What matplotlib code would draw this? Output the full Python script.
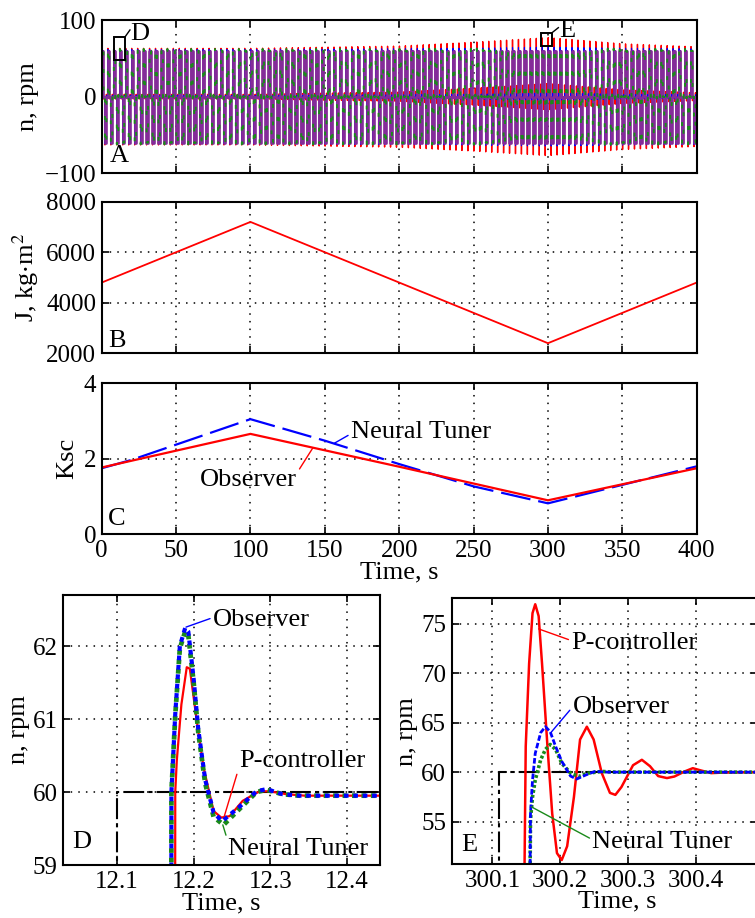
import numpy as np
import matplotlib
matplotlib.use('Agg')
import matplotlib.pyplot as plt
from matplotlib.patches import Rectangle

plt.rcParams['font.family'] = ['Liberation Serif', 'DejaVu Serif']
plt.rcParams['mathtext.fontset'] = 'stix'

# ---- panel A: speed for the whole run (steps every second, levels repeat)
ref_levels = [60, 0, -60, 0]
first_step = 0.1
step_dt = 1.0
t_end = 400
# overshoot of each controller
env_t = [0, 100, 200, 250, 300, 350, 400]
pc_over = [3, 3, 6, 11, 17, 9, 5]
obs_over = [1.5, 1.5, 2.5, 3.2, 4.5, 3.2, 2.4]
nt_over = [2.2, 2.2, 2.3, 2.5, 2.8, 2.5, 2.2]

# ---- panel B: moment of inertia
j_t = [0, 100, 300, 400]
j_val = [4800, 7200, 2400, 4800]

# ---- panel C: speed controller gain
kobs_t = [0, 100, 200, 300, 400]
kobs = [1.77, 2.66, 1.79, 0.90, 1.75]
knt_t = [0, 20, 100, 150, 200, 250, 300, 350, 400]
knt = [1.75, 1.97, 3.05, 2.48, 1.86, 1.27, 0.82, 1.31, 1.80]

# ---- panel D: zoom at t = 12.1 s
refd_t = [12.1, 12.1, 12.45]
refd_n = [0, 60, 60]
pcd_t = [12.1, 12.171, 12.176, 12.178, 12.184, 12.191, 12.195, 12.204, 12.213,
         12.226, 12.236, 12.247, 12.264, 12.286, 12.299, 12.321, 12.345, 12.45]
pcd_n = [0, 0, 60, 60.43, 61.2, 61.71, 61.69, 60.98, 60.33,
         59.74, 59.65, 59.67, 59.88, 60.01, 60.01, 59.97, 59.95, 59.95]
obsd_t = [12.1, 12.166, 12.171, 12.176, 12.182, 12.189, 12.193, 12.2, 12.206,
          12.215, 12.226, 12.237, 12.26, 12.282, 12.295, 12.316, 12.338, 12.45]
obsd_n = [0, 0, 60, 61.07, 62.0, 62.25, 62.2, 61.55, 60.86,
          60.17, 59.72, 59.6, 59.8, 60.01, 60.04, 59.97, 59.95, 59.95]
ntd_t = [12.1, 12.166, 12.171, 12.176, 12.182, 12.189, 12.193, 12.2, 12.206,
         12.215, 12.226, 12.239, 12.26, 12.282, 12.295, 12.316, 12.338, 12.45]
ntd_n = [0, 0, 60, 61.05, 61.97, 62.2, 62.15, 61.5, 60.82,
         60.12, 59.66, 59.55, 59.77, 60.0, 60.03, 59.97, 59.95, 59.95]

# ---- panel E: zoom at t = 300.1 s
refe_t = [300.11, 300.11, 300.5]
refe_n = [0, 60, 60]
pce_t = [300.1, 300.14, 300.149, 300.154, 300.159, 300.163, 300.168, 300.173,
         300.181, 300.188, 300.195, 300.202, 300.21, 300.22, 300.229, 300.239,
         300.249, 300.261, 300.273, 300.281, 300.29, 300.307, 300.32, 300.332,
         300.344, 300.357, 300.368, 300.383, 300.395, 300.407, 300.422, 300.437,
         300.5]
pce_n = [0, 0, 62.6, 71.0, 76.1, 77.0, 75.8, 71.0,
         62.6, 55.8, 51.8, 51.1, 52.5, 57.5, 63.3, 64.6,
         63.3, 59.9, 57.9, 57.7, 58.5, 60.7, 61.25, 60.6,
         59.6, 59.4, 59.56, 60.07, 60.4, 60.17, 59.9, 59.95,
         60.0]
obse_t = [300.1, 300.15, 300.156, 300.159, 300.163, 300.171, 300.178, 300.185,
          300.193, 300.202, 300.215, 300.224, 300.237, 300.251, 300.27, 300.5]
obse_n = [0, 0, 55.8, 59.2, 61.9, 64.0, 64.6, 64.1,
          62.6, 61.1, 59.6, 59.3, 59.7, 60.07, 60.0, 60.0]
nte_t = [300.1, 300.15, 300.156, 300.159, 300.163, 300.171, 300.178, 300.185,
         300.193, 300.202, 300.215, 300.227, 300.241, 300.261, 300.28, 300.5]
nte_n = [0, 0, 55.2, 57.5, 59.2, 61.25, 62.3, 62.8,
         62.3, 60.9, 59.9, 59.56, 59.9, 60.07, 60.0, 60.0]


def step_train(levels, t0, dt, t_stop, delay=0.0, over_t=None, over_v=None):
    ts, vs = [0.0], [0.0]
    prev = 0.0
    t = t0
    i = 0
    while t < t_stop:
        b = levels[i % len(levels)]
        s = np.sign(b - prev)
        if over_v is None:
            ts += [t, t]
            vs += [prev, b]
        else:
            os_ = np.interp(t, over_t, over_v)
            ts += [t + delay, t + delay + 0.03, t + delay + 0.08, t + delay + 0.2]
            vs += [prev, b + s * os_, b - s * os_ * 0.25, b]
        prev = b
        t += dt
        i += 1
    ts.append(t_stop)
    vs.append(prev)
    return np.array(ts), np.array(vs)


grid_kw = dict(color='k', linestyle=(0, (1, 4)), linewidth=1.1)
tick_kw = dict(direction='in', length=5, width=1.2, top=True, right=True,
               labelsize=18, pad=4)

fig = plt.figure(figsize=(7.55, 9.18), dpi=100)

W = 755.0
H = 918.0


def add_ax(l, t, r, b):
    return fig.add_axes([l / W, 1 - b / H, (r - l) / W, (b - t) / H])


axA = add_ax(101.7, 20, 696.7, 173.3)
axB = add_ax(101.7, 201.7, 696.7, 353.3)
axC = add_ax(101.7, 383.3, 696.7, 534.3)
axD = add_ax(63.3, 595, 380, 865)
axE = add_ax(451.7, 598.3, 758, 864)

# ---------------- A
t_pc, n_pc = step_train(ref_levels, first_step, step_dt, t_end, 0.04, env_t, pc_over)
t_ob, n_ob = step_train(ref_levels, first_step, step_dt, t_end, 0.05, env_t, obs_over)
t_nt, n_nt = step_train(ref_levels, first_step, step_dt, t_end, 0.05, env_t, nt_over)
t_rf, n_rf = step_train(ref_levels, first_step, step_dt, t_end)
axA.plot(t_pc, n_pc, color='#ff0000', lw=1.0)
axA.plot(t_ob, n_ob, color='#0000ff', lw=0.8)
axA.plot(t_rf, n_rf, color='#842c99', lw=1.9)
axA.plot(t_nt, n_nt, color='#1a8a1a', lw=1.4, linestyle=(0, (2, 7)))
axA.set_xlim(0, 400)
axA.set_ylim(-100, 100)
axA.set_yticks([-100, 0, 100])
axA.set_ylabel('n, rpm', fontsize=19)
axA.add_patch(Rectangle((8.5, 48), 7.2, 30, fill=False, ec='k', lw=1.4, zorder=5))
axA.plot([15.7, 19], [78, 87], color='k', lw=1.0, zorder=5)
axA.text(19.5, 82, 'D', fontsize=19, ha='left', va='center', zorder=6)
axA.add_patch(Rectangle((295, 65.5), 7.8, 18, fill=False, ec='k', lw=1.4, zorder=5))
axA.plot([302.8, 307], [83.5, 90], color='k', lw=1.0, zorder=5)
axA.text(307.5, 85, 'E', fontsize=19, ha='left', va='center', zorder=6)
axA.text(5.5, -78, 'A', fontsize=19, ha='left', va='center')

# ---------------- B
axB.plot(j_t, j_val, color='#ff0000', lw=1.3)
axB.set_xlim(0, 400)
axB.set_ylim(2000, 8000)
axB.set_yticks([2000, 4000, 6000, 8000])
axB.set_ylabel('J, kg$\\cdot$m$^2$', fontsize=19)
axB.text(4.2, 2500, 'B', fontsize=19, ha='left', va='center')

# ---------------- C
axC.plot(knt_t, knt, color='#0000ff', lw=1.6, linestyle=(0, (13.5, 3.6)))
axC.plot(kobs_t, kobs, color='#ff0000', lw=1.6)
axC.set_xlim(0, 400)
axC.set_ylim(0, 4)
axC.set_yticks([0, 2, 4])
axC.set_ylabel('Ksc', fontsize=19)
axC.set_xlabel('Time, s', fontsize=19, labelpad=0)
axC.annotate('Neural Tuner', xy=(156.3, 2.41), xytext=(167.5, 2.72), fontsize=19,
             ha='left', va='center',
             arrowprops=dict(arrowstyle='-', color='#0000ff', lw=1.0, relpos=(0, 0.4),
                             shrinkA=0, shrinkB=0))
axC.annotate('Observer', xy=(141.8, 2.28), xytext=(65.9, 1.44), fontsize=19,
             ha='left', va='center',
             arrowprops=dict(arrowstyle='-', color='#ff0000', lw=1.0, relpos=(1, 0.8),
                             shrinkA=0, shrinkB=0))
axC.text(4.2, 0.4, 'C', fontsize=19, ha='left', va='center')

for ax in (axA, axB, axC):
    ax.set_xticks(np.arange(0, 401, 50))
for ax in (axA, axB):
    ax.tick_params(labelbottom=False)

# ---------------- D
axD.plot(refd_t, refd_n, color='k', lw=1.5, linestyle=(0, (10, 2, 2, 2)))
axD.plot(pcd_t, pcd_n, color='#ff0000', lw=1.6)
axD.plot(ntd_t, ntd_n, color='#1a8a1a', lw=3.4, linestyle=(0, (1, 1)))
axD.plot(obsd_t, obsd_n, color='#0000ff', lw=3.0, linestyle=(1.13, (1.13, 1.13)))
axD.set_xlim(12.03, 12.443)
axD.set_ylim(59, 62.7)
axD.set_xticks([12.1, 12.2, 12.3, 12.4])
axD.set_yticks([59, 60, 61, 62])
axD.set_ylabel('n, rpm', fontsize=19, labelpad=2)
axD.set_xlabel('Time, s', fontsize=19, labelpad=0)
axD.annotate('Observer', xy=(12.19, 62.26), xytext=(12.225, 62.36), fontsize=19,
             ha='left', va='center',
             arrowprops=dict(arrowstyle='-', color='#0000ff', lw=1.0, relpos=(0, 0.6),
                             shrinkA=0, shrinkB=0))
axD.annotate('P-controller', xy=(12.24, 59.67), xytext=(12.26, 60.43), fontsize=19,
             ha='left', va='center',
             arrowprops=dict(arrowstyle='-', color='#ff0000', lw=1.0, relpos=(0, 0.3),
                             shrinkA=0, shrinkB=0))
axD.annotate('Neural Tuner', xy=(12.238, 59.55), xytext=(12.245, 59.22), fontsize=19,
             ha='left', va='center',
             arrowprops=dict(arrowstyle='-', color='#1a8a1a', lw=1.0, relpos=(0, 0.8),
                             shrinkA=0, shrinkB=0))
axD.text(12.042, 59.31, 'D', fontsize=19, ha='left', va='center')

# ---------------- E
axE.plot(refe_t, refe_n, color='k', lw=1.5, linestyle=(0, (10, 2, 2, 2)))
axE.plot(pce_t, pce_n, color='#ff0000', lw=1.8)
axE.plot(nte_t, nte_n, color='#1a8a1a', lw=2.6, linestyle=(0, (0.8, 0.6)))
axE.plot(obse_t, obse_n, color='#0000ff', lw=2.0, linestyle=(0, (2.0, 0.8)))
axE.set_xlim(300.04, 300.491)
axE.set_ylim(50.7, 77.6)
axE.set_xticks([300.1, 300.2, 300.3, 300.4])
axE.set_yticks([55, 60, 65, 70, 75])
axE.set_ylabel('n, rpm', fontsize=19, labelpad=2)
axE.set_xlabel('Time, s', fontsize=19, labelpad=0)
axE.xaxis.set_label_coords(0.54, -0.1)
axE.annotate('P-controller', xy=(300.168, 74.5), xytext=(300.216, 73.1), fontsize=19,
             ha='left', va='center',
             arrowprops=dict(arrowstyle='-', color='#ff0000', lw=1.0, relpos=(0, 0.6),
                             shrinkA=0, shrinkB=0))
axE.annotate('Observer', xy=(300.186, 64.0), xytext=(300.218, 66.6), fontsize=19,
             ha='left', va='center',
             arrowprops=dict(arrowstyle='-', color='#0000ff', lw=1.0, relpos=(0, 0.5),
                             shrinkA=0, shrinkB=0))
axE.annotate('Neural Tuner', xy=(300.157, 56.5), xytext=(300.247, 52.95), fontsize=19,
             ha='left', va='center',
             arrowprops=dict(arrowstyle='-', color='#1a8a1a', lw=1.0, relpos=(0, 0.6),
                             shrinkA=0, shrinkB=0))
axE.text(300.054, 52.65, 'E', fontsize=19, ha='left', va='center')

for ax in (axA, axB, axC, axD, axE):
    ax.grid(True, **grid_kw)
    ax.tick_params(**tick_kw)
    for sp in ax.spines.values():
        sp.set_linewidth(1.5)

fig.savefig('out.png', dpi=100)
